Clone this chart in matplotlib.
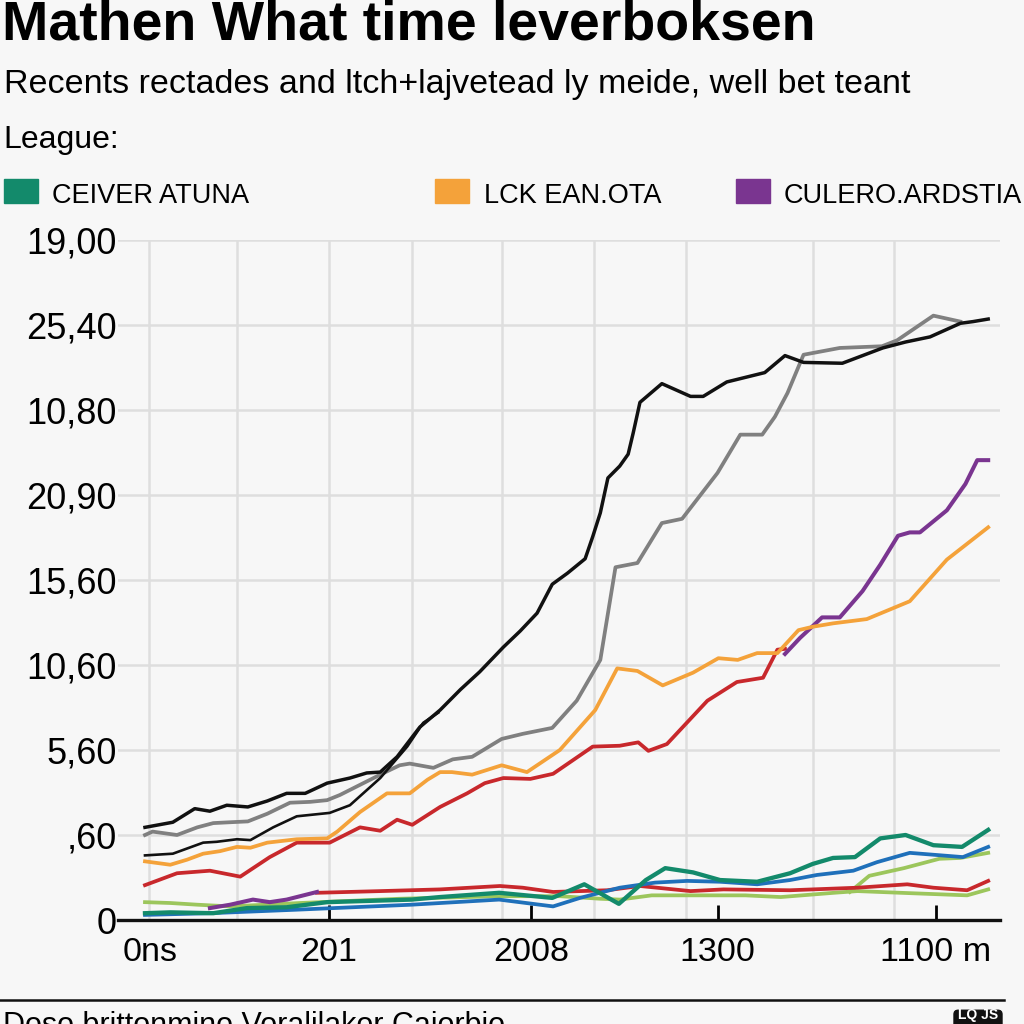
import numpy as np
import matplotlib
matplotlib.use('Agg')
import matplotlib.pyplot as plt
from matplotlib.patches import Rectangle, FancyBboxPatch

plt.rcParams['font.family'] = ['Liberation Sans', 'DejaVu Sans']

# --- data (arbitrary units) ---
black_x = [0, 3.3, 5.9, 7.7, 9.7, 12.2, 14.5, 16.8, 19.0, 21.6, 24.3, 26.3, 27.9, 29.9, 32.6,
           35.0, 37.4, 39.7, 42.5, 44.5, 46.5, 48.3, 50.1, 52.2, 53.1, 54.0, 54.9, 56.3, 57.3, 57.9,
           58.7, 61.3, 64.7, 66.2, 69.0, 73.5, 75.9, 78.1, 82.7, 87.5, 90.2, 93.1, 96.7, 98.2, 100]
black_y = [10.9, 11.5, 13.1, 12.8, 13.5, 13.3, 14.0, 14.9, 14.9, 16.1, 16.7, 17.3, 17.4, 19.2, 22.7,
           24.7, 27.1, 29.2, 32.1, 34.0, 36.1, 39.5, 40.8, 42.5, 45.1, 47.9, 52.0, 53.4, 54.8, 57.3,
           60.9, 63.1, 61.6, 61.6, 63.3, 64.4, 66.4, 65.6, 65.5, 67.3, 68.0, 68.6, 70.2, 70.4, 70.7]

gray_x = [0, 0.9, 3.8, 6.2, 8.1, 10.1, 12.2, 14.5, 17.2, 19.6, 21.6, 23.1, 25.5, 27.9, 30.2,
          31.4, 34.2, 36.5, 38.8, 42.3, 44.8, 48.3, 51.2, 54.0, 55.8, 58.4, 61.3, 63.7, 67.9, 70.6,
          73.2, 74.7, 76.2, 78.1, 82.4, 87.4, 89.2, 93.5, 96.7]
gray_y = [10.0, 10.4, 10.0, 10.9, 11.4, 11.5, 11.6, 12.5, 13.8, 13.9, 14.1, 14.7, 15.9, 17.1, 18.2,
          18.4, 17.9, 18.9, 19.2, 21.3, 21.9, 22.6, 25.8, 30.6, 41.5, 42.0, 46.7, 47.2, 52.6, 57.1,
          57.1, 59.2, 62.0, 66.5, 67.3, 67.5, 68.2, 71.1, 70.4]

thin_x = [0, 3.3, 6.9, 8.5, 10.9, 12.5, 15.2, 18.0, 21.9, 24.3, 27.9, 31.1, 33.0, 34.8]
thin_y = [7.6, 7.8, 9.1, 9.2, 9.5, 9.4, 10.9, 12.2, 12.6, 13.5, 16.7, 20.4, 23.2, 24.4]

orange_x = [0, 3.0, 5.0, 6.9, 8.9, 10.9, 12.5, 14.5, 18.0, 21.6, 22.8, 25.5, 28.7, 31.4, 33.5,
            35.0, 36.4, 38.8, 42.3, 45.3, 49.2, 53.4, 56.0, 58.4, 61.4, 65.0, 68.0, 70.3, 72.6, 75.0,
            77.5, 79.2, 81.6, 85.6, 90.7, 95.1, 100]
orange_y = [6.9, 6.5, 7.1, 7.8, 8.1, 8.6, 8.5, 9.1, 9.5, 9.6, 10.4, 12.7, 14.9, 14.9, 16.5,
            17.4, 17.4, 17.1, 18.2, 17.4, 20.0, 24.7, 29.6, 29.3, 27.6, 29.1, 30.8, 30.6, 31.4, 31.4,
            34.1, 34.5, 34.9, 35.4, 37.5, 42.4, 46.2]

red_x = [0, 3.8, 7.7, 11.3, 14.8, 18.0, 21.9, 25.5, 27.9, 29.9, 31.7, 35.0, 38.2, 40.3, 42.5,
         45.7, 48.4, 53.1, 56.3, 58.5, 59.7, 61.9, 66.7, 70.2, 73.3, 75.0, 75.9]
red_y = [4.1, 5.5, 5.8, 5.1, 7.4, 9.1, 9.1, 10.9, 10.5, 11.8, 11.2, 13.3, 14.9, 16.1, 16.7,
         16.6, 17.2, 20.4, 20.5, 20.9, 19.9, 20.7, 25.8, 28.0, 28.5, 31.8, 31.9]

purple_x = [7.7, 10.1, 12.8, 14.8, 16.8, 20.4, np.nan,
            75.9, 77.7, 80.3, 82.4, 85.1, 87.2, 89.3, 90.7, 91.9, 95.1, 97.3, 98.7, 100]
purple_y = [1.4, 1.8, 2.4, 2.1, 2.4, 3.3, np.nan,
            31.3, 33.2, 35.6, 35.6, 38.7, 41.8, 45.2, 45.6, 45.6, 48.2, 51.3, 54.1, 54.1]

redlow_x = [20.4, 27.9, 35.0, 42.1, 44.8, 48.4, 54.8, 58.7, 64.7, 68.6, 76.5, 84.5, 90.4, 93.5, 97.5, 100]
redlow_y = [3.2, 3.4, 3.6, 4.0, 3.8, 3.3, 3.5, 4.0, 3.4, 3.6, 3.5, 3.8, 4.2, 3.8, 3.5, 4.6]

lgreen_x = [0, 3.0, 6.2, 10.1, 18.4, 30.2, 42.1, 49.2, 54.0, 56.3, 60.1, 71.2, 75.4, 81.7, 84.5,
            89.6, 97.5, 100]
lgreen_y = [2.1, 2.0, 1.8, 1.6, 2.0, 2.5, 2.8, 2.8, 2.5, 2.4, 2.9, 2.9, 2.7, 3.2, 3.4,
            3.2, 2.9, 3.6]
lgreen2_x = [83.6, 85.9, 90.0, 94.2, 96.7, 100]
lgreen2_y = [3.3, 5.2, 6.1, 7.2, 7.3, 7.9]

teal_x = [0, 3.0, 8.1, 12.1, 16.8, 21.6, 31.6, 35.0, 42.0, 48.3, 52.1, 56.2, 59.4, 61.7, 65.0,
          68.2, 72.6, 76.5, 79.2, 81.6, 84.2, 87.2, 90.2, 93.5, 96.9, 100]
teal_y = [0.8, 0.9, 0.8, 1.4, 1.5, 2.1, 2.4, 2.7, 3.2, 2.6, 4.2, 1.9, 4.7, 6.1, 5.6,
          4.7, 4.5, 5.5, 6.6, 7.3, 7.4, 9.6, 10.0, 8.8, 8.6, 10.6]

blue_x = [0, 7.8, 17.7, 31.6, 42.0, 48.4, 51.6, 56.3, 60.5, 64.3, 68.2, 72.6, 76.5, 79.7, 84.0,
          86.8, 90.7, 97.0, 100]
blue_y = [0.6, 0.8, 1.2, 1.8, 2.4, 1.6, 2.6, 3.8, 4.4, 4.6, 4.5, 4.2, 4.7, 5.3, 5.8,
          6.8, 7.9, 7.4, 8.6]

y_ticks = [0, 10, 20, 30, 40, 50, 60, 70, 80]
y_labels = ['0', ',60', '5,60', '10,60', '15,60', '20,90', '10,80', '25,40', '19,00']
x_ticks = [0.6, 21.8, 45.8, 67.9, 93.8]
x_labels = ['0ns', '201', '2008', '1300', '1100 m']
x_grid = [0.5, 10.9, 21.8, 31.7, 42.3, 53.3, 64.2, 79.2, 88.8]

legend_names = ['CEIVER ATUNA', 'LCK EAN.OTA', 'CULERO.ARDSTIA']
legend_colors = ['#138a6b', '#f4a23a', '#7a3590']

bg = '#f7f7f7'
fig = plt.figure(figsize=(10.24, 10.24), dpi=100, facecolor=bg)
ax = fig.add_axes([118 / 1024, 1 - 920 / 1024, 882 / 1024, 680 / 1024], facecolor=bg)

for xg in x_grid:
    ax.axvline(xg, color='#dedede', lw=1.8, zorder=0)
for yg in y_ticks[1:]:
    ax.axhline(yg, color='#dedede', lw=1.8, zorder=0)

ax.plot(lgreen_x, lgreen_y, color='#9cc65c', lw=2.7, zorder=2)
ax.plot(lgreen2_x, lgreen2_y, color='#9cc65c', lw=2.7, zorder=2)
ax.plot(redlow_x, redlow_y, color='#c8282c', lw=2.7, zorder=2)
ax.plot(blue_x, blue_y, color='#1f70ba', lw=2.7, zorder=3)
ax.plot(teal_x, teal_y, color='#138a6b', lw=3.1, zorder=3)
ax.plot(red_x, red_y, color='#c8282c', lw=2.7, zorder=3)
ax.plot(purple_x, purple_y, color='#7a3590', lw=2.9, zorder=3)
ax.plot(orange_x, orange_y, color='#f4a23a', lw=2.7, zorder=3)
ax.plot(gray_x, gray_y, color='#808080', lw=2.7, zorder=4)
ax.plot(thin_x, thin_y, color='#111111', lw=1.9, zorder=4)
ax.plot(black_x, black_y, color='#111111', lw=2.5, zorder=5)

ax.set_xlim(-3.2, 101.4)
ax.set_ylim(0, 80)
for s in ['top', 'right', 'left']:
    ax.spines[s].set_visible(False)
ax.spines['bottom'].set_linewidth(2.4)
ax.spines['bottom'].set_color('#111111')

ax.set_yticks(y_ticks, y_labels)
ax.tick_params(axis='y', length=0, pad=1, labelsize=26)
ax.set_xticks(x_ticks, x_labels)
ax.tick_params(axis='x', direction='in', length=11, width=2, pad=12, labelsize=24.5)
ax.xaxis.get_major_ticks()[0].tick1line.set_visible(False)

# titles
fig.text(0.002, 1 - 40 / 1024, 'Mathen What time leverboksen', fontsize=40,
         fontweight='bold', va='baseline', ha='left')
fig.text(0.004, 1 - 93 / 1024, 'Recents rectades and ltch+lajvetead ly meide, well bet teant',
         fontsize=24.5, va='baseline', ha='left')
fig.text(0.003, 1 - 148 / 1024, 'League:', fontsize=23, va='baseline', ha='left')

# legend row
sq_x = [4, 435, 736]
tx_x = [52, 484, 784]
for name, col, sx, tx in zip(legend_names, legend_colors, sq_x, tx_x):
    fig.add_artist(Rectangle((sx / 1024, 1 - 203 / 1024), 34 / 1024, 24 / 1024,
                             transform=fig.transFigure, color=col))
    fig.text(tx / 1024, 1 - 203 / 1024, name, fontsize=19.5, va='baseline', ha='left')

# footer
fig.add_artist(plt.Line2D([0, 1004 / 1024], [1 - 1000 / 1024, 1 - 1000 / 1024],
                          transform=fig.transFigure, color='#111111', lw=1.8))
fig.text(0.003, 1 - 1034 / 1024, 'Doso brittonmino Voralilakor Caiorbio', fontsize=22,
         va='baseline', ha='left')
fig.add_artist(FancyBboxPatch((954 / 1024, -0.01), 48 / 1024, 24 / 1024,
                              boxstyle='round,pad=0,rounding_size=0.004',
                              transform=fig.transFigure, color='#111111'))
fig.text(978 / 1024, 1 - 1022 / 1024, 'LQ JS', fontsize=10, color='white',
         fontweight='bold', ha='center', va='bottom')

fig.savefig('out.png', dpi=100, facecolor=bg)
